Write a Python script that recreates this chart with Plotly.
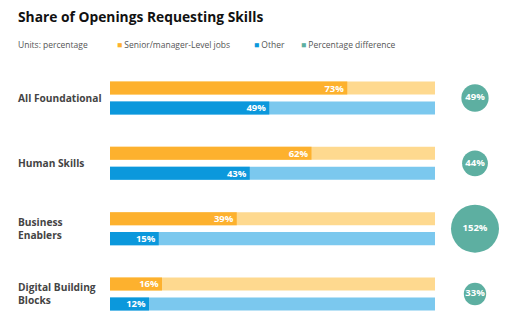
import plotly.graph_objects as go

categories = ["All Foundational", "Human Skills", "Business<br>Enablers", "Digital Building<br>Blocks"]
senior = [73, 62, 39, 16]
other = [49, 43, 15, 12]
pct_diff = [49, 44, 152, 33]

ORANGE = "#FDB12E"
ORANGE_L = "#FED98F"
BLUE = "#0B98DC"
BLUE_L = "#7BC8EE"
TEAL = "#5DAFA1"
FONT = "Open Sans"

W, H = 512, 333
idx = list(range(len(categories)))
off = 0.153
bw = 0.2

fig = go.Figure()
# background full-length bars
fig.add_trace(go.Bar(y=[i - off for i in idx], x=[100] * len(idx), orientation="h",
                     width=bw, marker=dict(color=ORANGE_L, line_width=0), hoverinfo="skip"))
fig.add_trace(go.Bar(y=[i + off for i in idx], x=[100] * len(idx), orientation="h",
                     width=bw, marker=dict(color=BLUE_L, line_width=0), hoverinfo="skip"))
# value bars
fig.add_trace(go.Bar(y=[i - off for i in idx], x=senior, orientation="h", width=bw,
                     marker=dict(color=ORANGE, line_width=0),
                     text=[f"{v}%" for v in senior], textposition="inside",
                     insidetextanchor="end", constraintext="none",
                     textfont=dict(color="white", size=9.5, family=FONT, weight="bold")))
fig.add_trace(go.Bar(y=[i + off for i in idx], x=other, orientation="h", width=bw,
                     marker=dict(color=BLUE, line_width=0),
                     text=[f"{v}%" for v in other], textposition="inside",
                     insidetextanchor="end", constraintext="none",
                     textfont=dict(color="white", size=9.5, family=FONT, weight="bold")))
# bubbles
maxd = 48
fig.add_trace(go.Scatter(x=[0] * len(idx), y=idx, xaxis="x2", mode="markers+text",
                         cliponaxis=False,
                         marker=dict(size=pct_diff, sizemode="area", opacity=1,
                                     sizeref=2 * max(pct_diff) / maxd ** 2,
                                     color=TEAL, line_width=0),
                         text=[f"{v}%" for v in pct_diff], textposition="middle center",
                         textfont=dict(color="white", size=9.5, family=FONT, weight="bold")))

# category labels
for i, c in zip(idx, categories):
    fig.add_annotation(x=16 / W, xref="paper", y=i, yref="y", text=c, showarrow=False,
                       xanchor="left", align="left",
                       font=dict(size=10.2, color="#444444", family=FONT, weight="bold"))

fig.add_annotation(x=16 / W, xref="paper", y=1 - 17 / H, yref="paper",
                   text="Share of Openings Requesting Skills", showarrow=False,
                   xanchor="left", yanchor="middle",
                   font=dict(size=13.8, color="#111111", family=FONT, weight="bold"))

legend_items = [
    (16, "Units: percentage", None),
    (115, "Senior/manager-Level jobs", ORANGE),
    (252, "Other", BLUE),
    (299, "Percentage difference", TEAL),
]
for px, label, col in legend_items:
    txt = label if col is None else f'<span style="color:{col}">■</span> {label}'
    fig.add_annotation(x=px / W, xref="paper", y=1 - 44 / H, yref="paper", text=txt,
                       showarrow=False, xanchor="left", yanchor="middle",
                       font=dict(size=8.5, color="#555555", family=FONT))

y0_px, step_px = 98, 65.33
fig.update_layout(
    width=W, height=H, margin=dict(l=0, r=0, t=0, b=0),
    paper_bgcolor="white", plot_bgcolor="white",
    barmode="overlay", showlegend=False,
    xaxis=dict(domain=[110 / W, 435 / W], range=[0, 100], visible=False, fixedrange=True),
    xaxis2=dict(domain=[455 / W, 495 / W], range=[-1, 1], visible=False, anchor="y"),
    yaxis=dict(domain=[0, 1], range=[(H - y0_px) / step_px, -y0_px / step_px],
               visible=False),
)
fig.write_html("out.html")
